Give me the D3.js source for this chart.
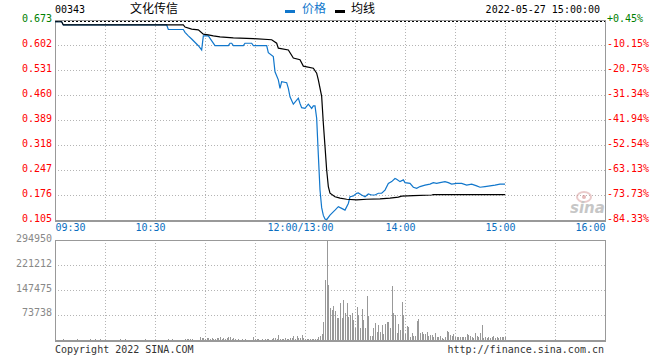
<!DOCTYPE html>
<html><head><meta charset="utf-8">
<script src="https://cdn.jsdelivr.net/npm/d3@7"></script>
<style>body{margin:0;background:#fff}svg{display:block}</style>
</head><body><svg id="c" width="660" height="360"></svg>
<script>
const stockCode = "00343";
const stockName = "文化传信";
const stamp = "2022-05-27 15:00:00";
const legendNames = ["价格", "均线"];
const prevClose = 0.670;
const priceTicks = [0.673, 0.602, 0.531, 0.460, 0.389, 0.318, 0.247, 0.176, 0.105];
const pctTicks = ["+0.45%", "-10.15%", "-20.75%", "-31.34%", "-41.94%", "-52.54%", "-63.13%", "-73.73%", "-84.33%"];
const volTicks = [294950, 221212, 147475, 73738];
const timeLabels = ["09:30", "10:30", "12:00/13:00", "14:00", "15:00", "16:00"];

const priceTimes = ["09:30","09:34","09:35","10:37","10:38","10:47","10:48","10:50","10:52","10:56","10:58","10:59","11:02","11:06","11:14","11:15","11:16","11:17","11:23","11:24","11:28","11:29","11:37","11:38","11:41","11:42","11:44","11:45","11:46","11:49","11:50","11:51","11:53","11:56","11:57","11:58","12:00","13:02","13:04","13:05","13:06","13:07","13:08","13:09","13:10","13:11","13:12","13:13","13:15","13:18","13:20","13:22","13:24","13:26","13:27","13:29","13:31","13:32","13:34","13:36","13:38","13:40","13:42","13:44","13:46","13:48","13:50","13:52","13:54","13:55","13:57","13:59","14:00","14:03","14:05","14:07","14:09","14:12","14:15","14:17","14:19","14:21","14:24","14:26","14:28","14:31","14:34","14:37","14:40","14:43","14:45","14:48","14:51","14:54","14:57","15:00"];
const prices = [0.668,0.668,0.659,0.659,0.646,0.646,0.638,0.628,0.619,0.600,0.588,0.628,0.628,0.600,0.600,0.607,0.607,0.600,0.600,0.607,0.607,0.600,0.600,0.580,0.569,0.526,0.503,0.479,0.498,0.495,0.479,0.455,0.434,0.451,0.436,0.424,0.422,0.434,0.422,0.429,0.429,0.394,0.290,0.190,0.140,0.118,0.108,0.106,0.119,0.133,0.143,0.138,0.133,0.152,0.171,0.173,0.181,0.182,0.176,0.171,0.179,0.176,0.176,0.181,0.181,0.190,0.209,0.214,0.223,0.221,0.214,0.219,0.211,0.209,0.198,0.195,0.200,0.204,0.207,0.211,0.209,0.211,0.214,0.211,0.207,0.209,0.209,0.204,0.207,0.202,0.198,0.200,0.202,0.204,0.207,0.207];

const avgTimes = ["09:30","09:34","09:35","10:47","10:48","10:52","10:56","10:59","11:02","11:05","11:09","11:17","11:29","11:40","11:43","11:44","11:50","11:53","11:57","11:59","13:05","13:07","13:08","13:10","13:11","13:12","13:13","13:14","13:15","13:18","13:21","13:25","13:31","13:37","13:45","13:51","13:56","13:58","14:05","14:16","14:17","15:00"];
const avgPrices = [0.668,0.668,0.659,0.659,0.653,0.647,0.645,0.633,0.631,0.628,0.625,0.622,0.620,0.617,0.607,0.593,0.588,0.565,0.560,0.542,0.536,0.522,0.503,0.456,0.380,0.314,0.247,0.200,0.181,0.171,0.167,0.164,0.162,0.164,0.165,0.167,0.170,0.173,0.174,0.176,0.177,0.177];

// one value per minute slot, 09:30 .. 12:00 (slots 0-150) then 13:01 .. 15:00 (slots 151-270)
const volumes = [
2000,0,0,0,0,2000,0,0,0,0,
0,0,0,2000,0,0,0,0,0,0,
0,2000,0,0,2000,0,0,2000,0,0,
0,0,0,0,0,0,0,0,0,2000,
0,0,2000,0,0,0,0,0,0,0,
0,0,0,0,1500,0,0,0,0,0,
0,0,0,0,0,0,0,0,1500,0,
1500,0,0,0,0,0,0,0,2000,1500,
2500,2000,3000,0,0,0,0,10000,6000,4500,
3000,6000,5000,3000,6000,3000,4000,6000,5000,8000,
3000,6000,4000,5000,9000,9000,4000,6000,3000,0,
1500,0,1500,0,2000,0,0,0,0,9000,
1500,2000,3000,0,2000,0,3000,1500,3000,0,
4000,6000,5000,3000,16000,3000,4000,3000,6000,4000,
3000,7000,5000,12000,4000,13000,6000,5000,14000,5000,
4000,
3000,2000,2000,2500,2000,3000,4000,
8000,11800,17700,54000,177000,294950,162000,
93500,88500,100300,85500,64000,64000,108000,64000,118000,78800,
108000,68700,73700,80500,59000,34500,96400,73700,34500,90500,
59000,36300,129800,70800,11800,11800,34500,51000,24500,44200,
24500,44200,17700,47200,54000,54000,34500,159300,80500,73700,
21500,47200,29500,113000,73700,17700,41300,39200,8000,19800,
11800,11800,56000,61000,21500,24500,17700,17700,24500,11800,
14700,14700,9700,19800,9700,8000,11800,5000,3000,8000,
27400,24500,14700,11800,17700,8000,8000,8000,8000,8000,
9700,8000,17700,14700,11800,8000,5000,19800,11800,8000,
21500,44200,5000,8000,5000,8000,5000,8000,11800,5000,
8000,5000,8000,8000,8000,8000];

// ---- helpers ----
function toSlot(t) {
  const part = t.includes("/") ? t.split("/")[1] : t;
  const [h, m] = part.split(":").map(Number);
  const mins = h * 60 + m;
  return mins <= 720 ? mins - 570 : 150 + (mins - 780);
}

const svg = d3.select("#c");
const mono = "'DejaVu Sans Mono', monospace";
const cjk = "'Noto Sans CJK SC', sans-serif";
const L = 55, R = 605, T = 20, B = 220, VT = 240, VB = 340;

const x = d3.scaleLinear().domain([0, 330]).range([L, R]);
const y = d3.scaleLinear().domain([0.105, 0.673]).range([B, T]);
const yv = d3.scaleLinear().domain([0, 294950]).range([VB, VT]);

svg.append("rect").attr("width", 660).attr("height", 360).attr("fill", "#fff");

// grid
const gridColor = "#b4b4b4";
const vSlots = d3.range(30, 330, 30);
const g = svg.append("g").attr("stroke", gridColor).attr("stroke-dasharray", "1,2").attr("shape-rendering", "crispEdges");
vSlots.forEach(s => {
  const xx = Math.round(x(s)) + 0.5;
  g.append("line").attr("x1", xx).attr("x2", xx).attr("y1", T).attr("y2", B);
  g.append("line").attr("x1", xx).attr("x2", xx).attr("y1", VT).attr("y2", VB);
});
priceTicks.slice(1, -1).forEach(p => {
  const yy = Math.round(y(p)) + 0.5;
  g.append("line").attr("x1", L).attr("x2", R).attr("y1", yy).attr("y2", yy);
});
volTicks.slice(1).forEach(v => {
  const yy = Math.round(yv(v)) + 0.5;
  g.append("line").attr("x1", L).attr("x2", R).attr("y1", yy).attr("y2", yy);
});

// volume bars
svg.append("g").attr("fill", "#999").attr("shape-rendering", "crispEdges")
  .selectAll("rect").data(volumes).join("rect")
  .attr("x", (d, i) => Math.round(x(i)))
  .attr("width", 1)
  .attr("y", d => Math.round(yv(d)))
  .attr("height", d => VB - Math.round(yv(d)));

// frames
const frame = svg.append("g").attr("stroke", "#999").attr("fill", "none").attr("shape-rendering", "crispEdges");
frame.append("rect").attr("x", L + 0.5).attr("y", T + 0.5).attr("width", R - L).attr("height", B - T);
frame.append("rect").attr("x", L + 0.5).attr("y", VT + 0.5).attr("width", R - L).attr("height", VB - VT);
frame.append("line").attr("x1", L).attr("x2", R + 1).attr("y1", B + 1.5).attr("y2", B + 1.5);
frame.append("line").attr("x1", L).attr("x2", R + 1).attr("y1", VB + 1.5).attr("y2", VB + 1.5);

// prev close dashed
svg.append("line").attr("x1", L + 1).attr("x2", R).attr("y1", Math.round(y(prevClose)) + 0.5).attr("y2", Math.round(y(prevClose)) + 0.5)
  .attr("stroke", "#000").attr("stroke-dasharray", "2,2").attr("shape-rendering", "crispEdges");

// watermark
const wm = svg.append("g").attr("opacity", 0.55);
wm.append("ellipse").attr("cx", 584).attr("cy", 197).attr("rx", 7).attr("ry", 5).attr("fill", "none").attr("stroke", "#d8a0a0").attr("stroke-width", 2);
wm.append("circle").attr("cx", 584).attr("cy", 197).attr("r", 2).attr("fill", "#d08080");
wm.append("text").attr("x", 570).attr("y", 213).attr("font-family", "'DejaVu Sans', sans-serif").attr("font-weight", "bold").attr("font-style", "italic").attr("font-size", 15).attr("fill", "#999").text("sina");

// lines
const pData = priceTimes.map((t, i) => ({s: toSlot(t), v: prices[i]}));
const aData = avgTimes.map((t, i) => ({s: toSlot(t), v: avgPrices[i]}));
const line = d3.line().x(d => x(d.s)).y(d => y(d.v));
svg.append("path").attr("d", line(pData)).attr("fill", "none").attr("stroke", "#1177cc").attr("stroke-width", 1.2);
svg.append("path").attr("d", line(aData)).attr("fill", "none").attr("stroke", "#000").attr("stroke-width", 1.2);

// axes
const axL = svg.append("g").attr("transform", `translate(${L},0)`)
  .call(d3.axisLeft(y).tickValues(priceTicks).tickFormat(d3.format(".3f")).tickSize(0).tickPadding(3));
axL.select(".domain").remove();
axL.selectAll("text").attr("dy", 1).attr("font-family", mono).attr("font-size", 10)
  .attr("fill", d => d >= prevClose ? "#008000" : "#ff0000");

const pctScale = d3.scalePoint().domain(pctTicks).range([T, B]);
const axR = svg.append("g").attr("transform", `translate(${R},0)`)
  .call(d3.axisRight(pctScale).tickSize(0).tickPadding(2));
axR.select(".domain").remove();
axR.selectAll("text").attr("dy", 1).attr("font-family", mono).attr("font-size", 10)
  .attr("fill", d => d.startsWith("+") ? "#008000" : "#ff0000");

const axV = svg.append("g").attr("transform", `translate(${L},0)`)
  .call(d3.axisLeft(yv).tickValues(volTicks).tickFormat(d3.format("d")).tickSize(0).tickPadding(3));
axV.select(".domain").remove();
axV.selectAll("text").attr("dy", 1).attr("font-family", mono).attr("font-size", 10).attr("fill", "#888");

const axT = svg.append("g").attr("transform", `translate(0,${B})`)
  .call(d3.axisBottom(x).tickValues(timeLabels.map(toSlot)).tickFormat((d, i) => timeLabels[i]).tickSize(0).tickPadding(4));
axT.select(".domain").remove();
axT.selectAll("text").attr("font-family", mono).attr("font-size", 10).attr("fill", "#0a6ec0")
  .attr("text-anchor", (d, i) => i === 0 ? "start" : (i === timeLabels.length - 1 ? "end" : "middle"))
  .attr("dx", (d, i) => (i === 0 || i === timeLabels.length - 1) ? 0 : -5);
svg.selectAll(".tick line").remove();

// header
svg.append("text").attr("x", 55).attr("y", 13).attr("font-family", mono).attr("font-size", 10).attr("fill", "#000").text(stockCode);
svg.append("text").attr("x", 130).attr("y", 13).attr("font-family", cjk).attr("font-size", 12).attr("fill", "#000").text(stockName);
svg.append("rect").attr("x", 285).attr("y", 10).attr("width", 10).attr("height", 3).attr("fill", "#1177cc");
svg.append("text").attr("x", 302).attr("y", 13).attr("font-family", cjk).attr("font-size", 12).attr("fill", "#1177cc").text(legendNames[0]);
svg.append("rect").attr("x", 335).attr("y", 10).attr("width", 10).attr("height", 3).attr("fill", "#000");
svg.append("text").attr("x", 351).attr("y", 13).attr("font-family", cjk).attr("font-size", 12).attr("fill", "#000").text(legendNames[1]);
svg.append("text").attr("x", 600).attr("y", 13).attr("text-anchor", "end").attr("font-family", mono).attr("font-size", 10).attr("fill", "#000").text(stamp);

// footer
svg.append("text").attr("x", 55).attr("y", 353).attr("font-family", mono).attr("font-size", 10).attr("fill", "#333").text("Copyright 2022 SINA.COM");
svg.append("text").attr("x", 604).attr("y", 353).attr("text-anchor", "end").attr("font-family", mono).attr("font-size", 10).attr("fill", "#333").text("http://finance.sina.com.cn");
</script></body></html>
